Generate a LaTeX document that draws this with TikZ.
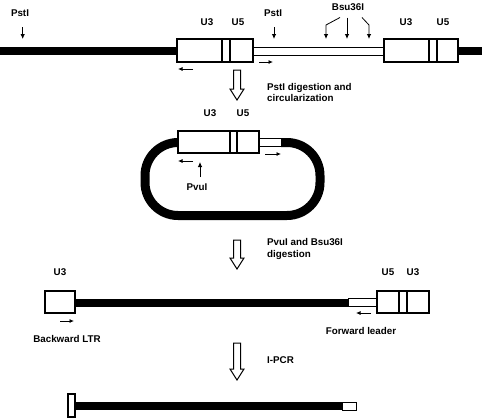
\documentclass[tikz,border=0pt]{standalone}
\usepackage{fontspec}
\setmainfont{Liberation Sans}
\usetikzlibrary{arrows.meta}

\tikzset{
  dna/.style={line width=8pt},
  tube/.style={draw, fill=white, line width=0.9pt},
  ltr/.style={draw, fill=white, line width=1.1pt},
  lbl/.style={font=\fontsize{9.8}{11.5}\selectfont\bfseries, inner sep=0pt},
  primer/.style={-{Latex[length=4.5pt,width=4pt]}, line width=0.8pt},
  cut/.style={-{Latex[length=5pt,width=4.5pt]}, line width=0.8pt},
  stepArrow/.style={draw, fill=white, line width=1pt, line join=miter}
}

\begin{document}
\begin{tikzpicture}[x=1pt, y=-1pt]
  \useasboundingbox (0,0) rectangle (482,418);

  %provirus
  \draw[dna] (0,51) -- (177,51);
  \draw[dna] (458,51) -- (482,51);
  \draw[tube] (253,47) rectangle (384,55);
  \draw[ltr] (177,39) rectangle (253,62);
  \draw[ltr] (222,39) -- (222,62) (230,39) -- (230,62);
  \draw[ltr] (384,39) rectangle (458,62);
  \draw[ltr] (429,39) -- (429,62) (437,39) -- (437,62);

  \node[lbl] (pst1) at (20,13) {PstI};
  \node[lbl] (pst2) at (273,13) {PstI};
  \node[lbl] (bsu) at (348,7) {Bsu36I};
  \node[lbl] (u3a) at (207,22) {U3};
  \node[lbl] (u5a) at (238,22) {U5};
  \node[lbl] (u3b) at (406,22) {U3};
  \node[lbl] (u5b) at (443,22) {U5};

  \draw[cut] (22.7,27) -- (22.7,39);
  \draw[cut] (274,27) -- (274,39);
  \draw[cut] (340,17.5) -- (326,25) -- (326,39);
  \draw[cut] (347,17.5) -- (347,39);
  \draw[cut] (362,17.5) -- (369,25) -- (369,39);

  \draw[primer] (193,69) -- (178,69);
  \draw[primer] (259,62) -- (273,62);

  %steps
  \foreach \top/\tip in {70/100, 240/269, 343/380}
    \draw[stepArrow] (233.5,\top) -- (240.5,\top) -- (240.5,\tip-11) -- (244,\tip-11)
      -- (237,\tip) -- (230,\tip-11) -- (233.5,\tip-11) -- cycle;

  \node[lbl, anchor=west, align=left] (step1) at (267,92.5) {PstI digestion and\\circularization};
  \node[lbl, anchor=west, align=left] (step2) at (267,249) {PvuI and Bsu36I\\digestion};
  \node[lbl, anchor=west] (step3) at (267,360) {I-PCR};

  %circle
  \draw[line width=9pt, rounded corners=33pt] (281,142.5) -- (320,142.5) -- (320,215.5)
    -- (145,215.5) -- (145,142.5) -- (178,142.5);
  \draw[tube] (259,138.5) rectangle (281,146.5);
  \draw[ltr] (178,131) rectangle (259,153);
  \draw[ltr] (230,131) -- (230,153) (237,131) -- (237,153);
  \node[lbl] (u3c) at (210,113) {U3};
  \node[lbl] (u5c) at (243,113) {U5};
  \node[lbl] (pvu) at (197,187) {PvuI};
  \draw[primer] (193,161) -- (178,161);
  \draw[cut] (200,177) -- (200,162);
  \draw[primer] (265,154) -- (281,154);

  %linear
  \draw[dna] (75,302.5) -- (348,302.5);
  \draw[tube] (348,298.5) rectangle (377,306.5);
  \draw[ltr] (45,291) rectangle (75,313);
  \draw[ltr] (377,291) rectangle (429,313);
  \draw[ltr] (399,291) -- (399,313) (407,291) -- (407,313);
  \node[lbl] (u3d) at (60,272) {U3};
  \node[lbl] (u5d) at (388,272) {U5};
  \node[lbl] (u3e) at (413,272) {U3};
  \draw[primer] (60,321) -- (74,321);
  \draw[primer] (371,313) -- (356,313);
  \node[lbl] (back) at (67,339) {Backward LTR};
  \node[lbl] (fwd) at (361,331) {Forward leader};

  %product
  \draw[dna] (75,406) -- (342,406);
  \draw[tube] (342,402) rectangle (356,410);
  \draw[ltr] (68,394) rectangle (75,417);
\end{tikzpicture}
\end{document}
